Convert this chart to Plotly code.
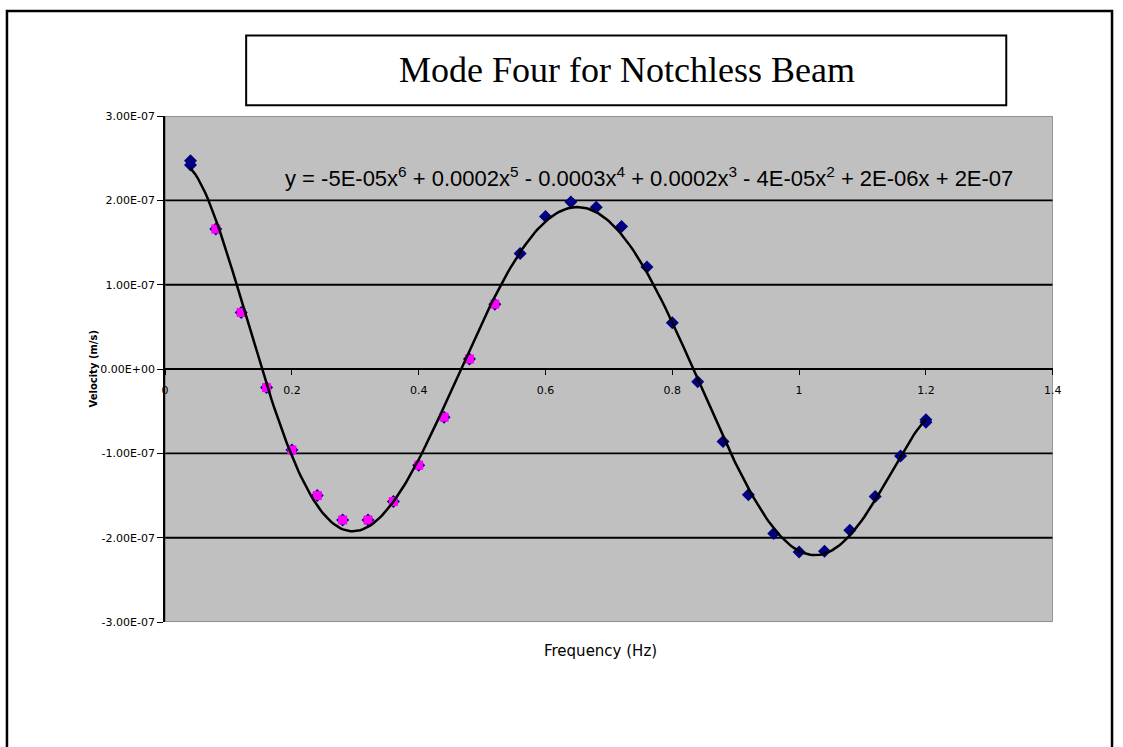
import numpy as np
import plotly.graph_objects as go

# Measured velocity response (all readings, navy diamonds)
freq_all = [0.04, 0.04, 0.08, 0.12, 0.16, 0.20, 0.24, 0.28, 0.32, 0.36, 0.40, 0.44, 0.48,
            0.52, 0.56, 0.60, 0.64, 0.68, 0.72, 0.76, 0.80, 0.84, 0.88, 0.92, 0.96,
            1.00, 1.04, 1.08, 1.12, 1.16, 1.20, 1.20]
vel_all = [2.47e-7, 2.42e-7, 1.66e-7, 0.67e-7, -0.22e-7, -0.96e-7, -1.50e-7, -1.79e-7,
           -1.79e-7, -1.57e-7, -1.14e-7, -0.57e-7, 0.12e-7, 0.77e-7, 1.37e-7, 1.81e-7,
           1.98e-7, 1.92e-7, 1.69e-7, 1.21e-7, 0.55e-7, -0.15e-7, -0.86e-7, -1.49e-7,
           -1.95e-7, -2.17e-7, -2.16e-7, -1.91e-7, -1.51e-7, -1.03e-7, -0.60e-7, -0.63e-7]

# Highlighted subset (magenta squares)
freq_sub = [0.08, 0.12, 0.16, 0.20, 0.24, 0.28, 0.32, 0.36, 0.40, 0.44, 0.48, 0.52]
vel_sub = [1.66e-7, 0.67e-7, -0.22e-7, -0.96e-7, -1.50e-7, -1.79e-7, -1.79e-7,
           -1.57e-7, -1.14e-7, -0.57e-7, 0.12e-7, 0.77e-7]

y_ticks = [-3e-7, -2e-7, -1e-7, 0, 1e-7, 2e-7, 3e-7]
y_tick_text = ["-3.00E-07", "-2.00E-07", "-1.00E-07", "0.00E+00", "1.00E-07", "2.00E-07", "3.00E-07"]
x_ticks = [0, 0.2, 0.4, 0.6, 0.8, 1.0, 1.2, 1.4]
x_tick_text = ["0", "0.2", "0.4", "0.6", "0.8", "1", "1.2", "1.4"]

title_text = "Mode Four for Notchless Beam"
equation_text = ("y = -5E-05x<sup>6</sup> + 0.0002x<sup>5</sup> - 0.0003x<sup>4</sup> + "
                 "0.0002x<sup>3</sup> - 4E-05x<sup>2</sup> + 2E-06x + 2E-07")

# Sixth-order polynomial trendline fitted to the readings
coef = np.polyfit(freq_all, vel_all, 6)
fx = np.linspace(min(freq_all), max(freq_all), 300)
fy = np.polyval(coef, fx)

W, H = 1123, 747
px_left, px_right, px_top, px_bottom = 163, 1061, 112, 627
xdom = [px_left / W, px_right / W]
ydom = [(H - px_bottom) / H, (H - px_top) / H]


def px_x(p):
    return p / W


def px_y(p):
    return (H - p) / H


AXIS_FONT = dict(family="DejaVu Sans", size=11, color="black")

fig = go.Figure()
fig.add_trace(go.Scatter(x=freq_all, y=vel_all, mode="markers",
                         marker=dict(symbol="diamond", size=10, color="#000080"),
                         showlegend=False))
fig.add_trace(go.Scatter(x=freq_sub, y=vel_sub, mode="markers",
                         marker=dict(symbol="square", size=9, color="#FF00FF"),
                         showlegend=False))
fig.add_trace(go.Scatter(x=fx, y=fy, mode="lines",
                         line=dict(color="black", width=2.5), showlegend=False))

shapes = []
# outer chart frame (bottom edge runs off the page)
shapes.append(dict(type="rect", xref="paper", yref="paper", x0=px_x(3), x1=px_x(1121),
                   y0=-0.05, y1=px_y(5), line=dict(color="black", width=2.5),
                   fillcolor="rgba(0,0,0,0)", layer="above"))
# title box
shapes.append(dict(type="rect", xref="paper", yref="paper", x0=px_x(245), x1=px_x(1014),
                   y0=px_y(101), y1=px_y(30), line=dict(color="black", width=2),
                   fillcolor="white"))
# plot-area border
shapes.append(dict(type="rect", xref="x", yref="y", x0=0, x1=1.4, y0=-3e-7, y1=3e-7,
                   line=dict(color="#808080", width=1.5), layer="below"))
# horizontal gridlines
for v in y_ticks:
    if v != 0 and abs(v) < 2.5e-7:
        shapes.append(dict(type="line", xref="x", yref="y", x0=0, x1=1.4, y0=v, y1=v,
                           line=dict(color="black", width=1.8), layer="below"))

fig.update_layout(
    width=W, height=H, autosize=False,
    margin=dict(l=0, r=0, t=0, b=0),
    paper_bgcolor="white", plot_bgcolor="#C0C0C0",
    shapes=shapes,
    xaxis=dict(domain=xdom, range=[0, 1.4], tickvals=x_ticks, ticktext=x_tick_text,
               showgrid=False, zeroline=False, showline=True, linecolor="black", linewidth=1.8,
               ticks="outside", ticklen=5, tickcolor="black", tickwidth=1,
               ticklabelstandoff=6,
               anchor="free", position=(ydom[0] + ydom[1]) / 2, tickfont=AXIS_FONT),
    yaxis=dict(domain=ydom, range=[-3e-7, 3e-7], tickvals=y_ticks, ticktext=y_tick_text,
               showgrid=False, zeroline=False, showline=True, linecolor="black", linewidth=1.8,
               ticks="outside", ticklen=6, tickcolor="black", tickwidth=1, tickfont=AXIS_FONT),
    annotations=[
        dict(text=title_text, xref="paper", yref="paper", x=px_x(630), y=px_y(65),
             xanchor="center", yanchor="middle", showarrow=False,
             font=dict(family="Liberation Serif, Times New Roman", size=36, color="black")),
        dict(text=equation_text, xref="paper", yref="paper", x=px_x(653), y=px_y(174),
             xanchor="center", yanchor="middle", showarrow=False,
             font=dict(family="Liberation Sans, Arial", size=22, color="black")),
        dict(text="<b>Velocity (m/s)</b>", xref="paper", yref="paper", x=px_x(91),
             y=px_y(369), xanchor="center", yanchor="middle", textangle=-90, showarrow=False,
             font=dict(family="DejaVu Sans", size=10, color="black")),
        dict(text="Frequency (Hz)", xref="paper", yref="paper", x=px_x(603), y=px_y(656),
             xanchor="center", yanchor="middle", showarrow=False,
             font=dict(family="DejaVu Sans", size=15, color="black")),
    ],
)

# page fixed to the figure size, with no browser margin and nothing overflowing
page_css = ("var s=document.documentElement.style;s.margin='0';s.height='747px';s.overflow='hidden';"
            "var b=document.body.style;b.margin='0';b.height='747px';b.width='1123px';"
            "b.overflow='hidden';")
fig.write_html("out.html", post_script=page_css)
